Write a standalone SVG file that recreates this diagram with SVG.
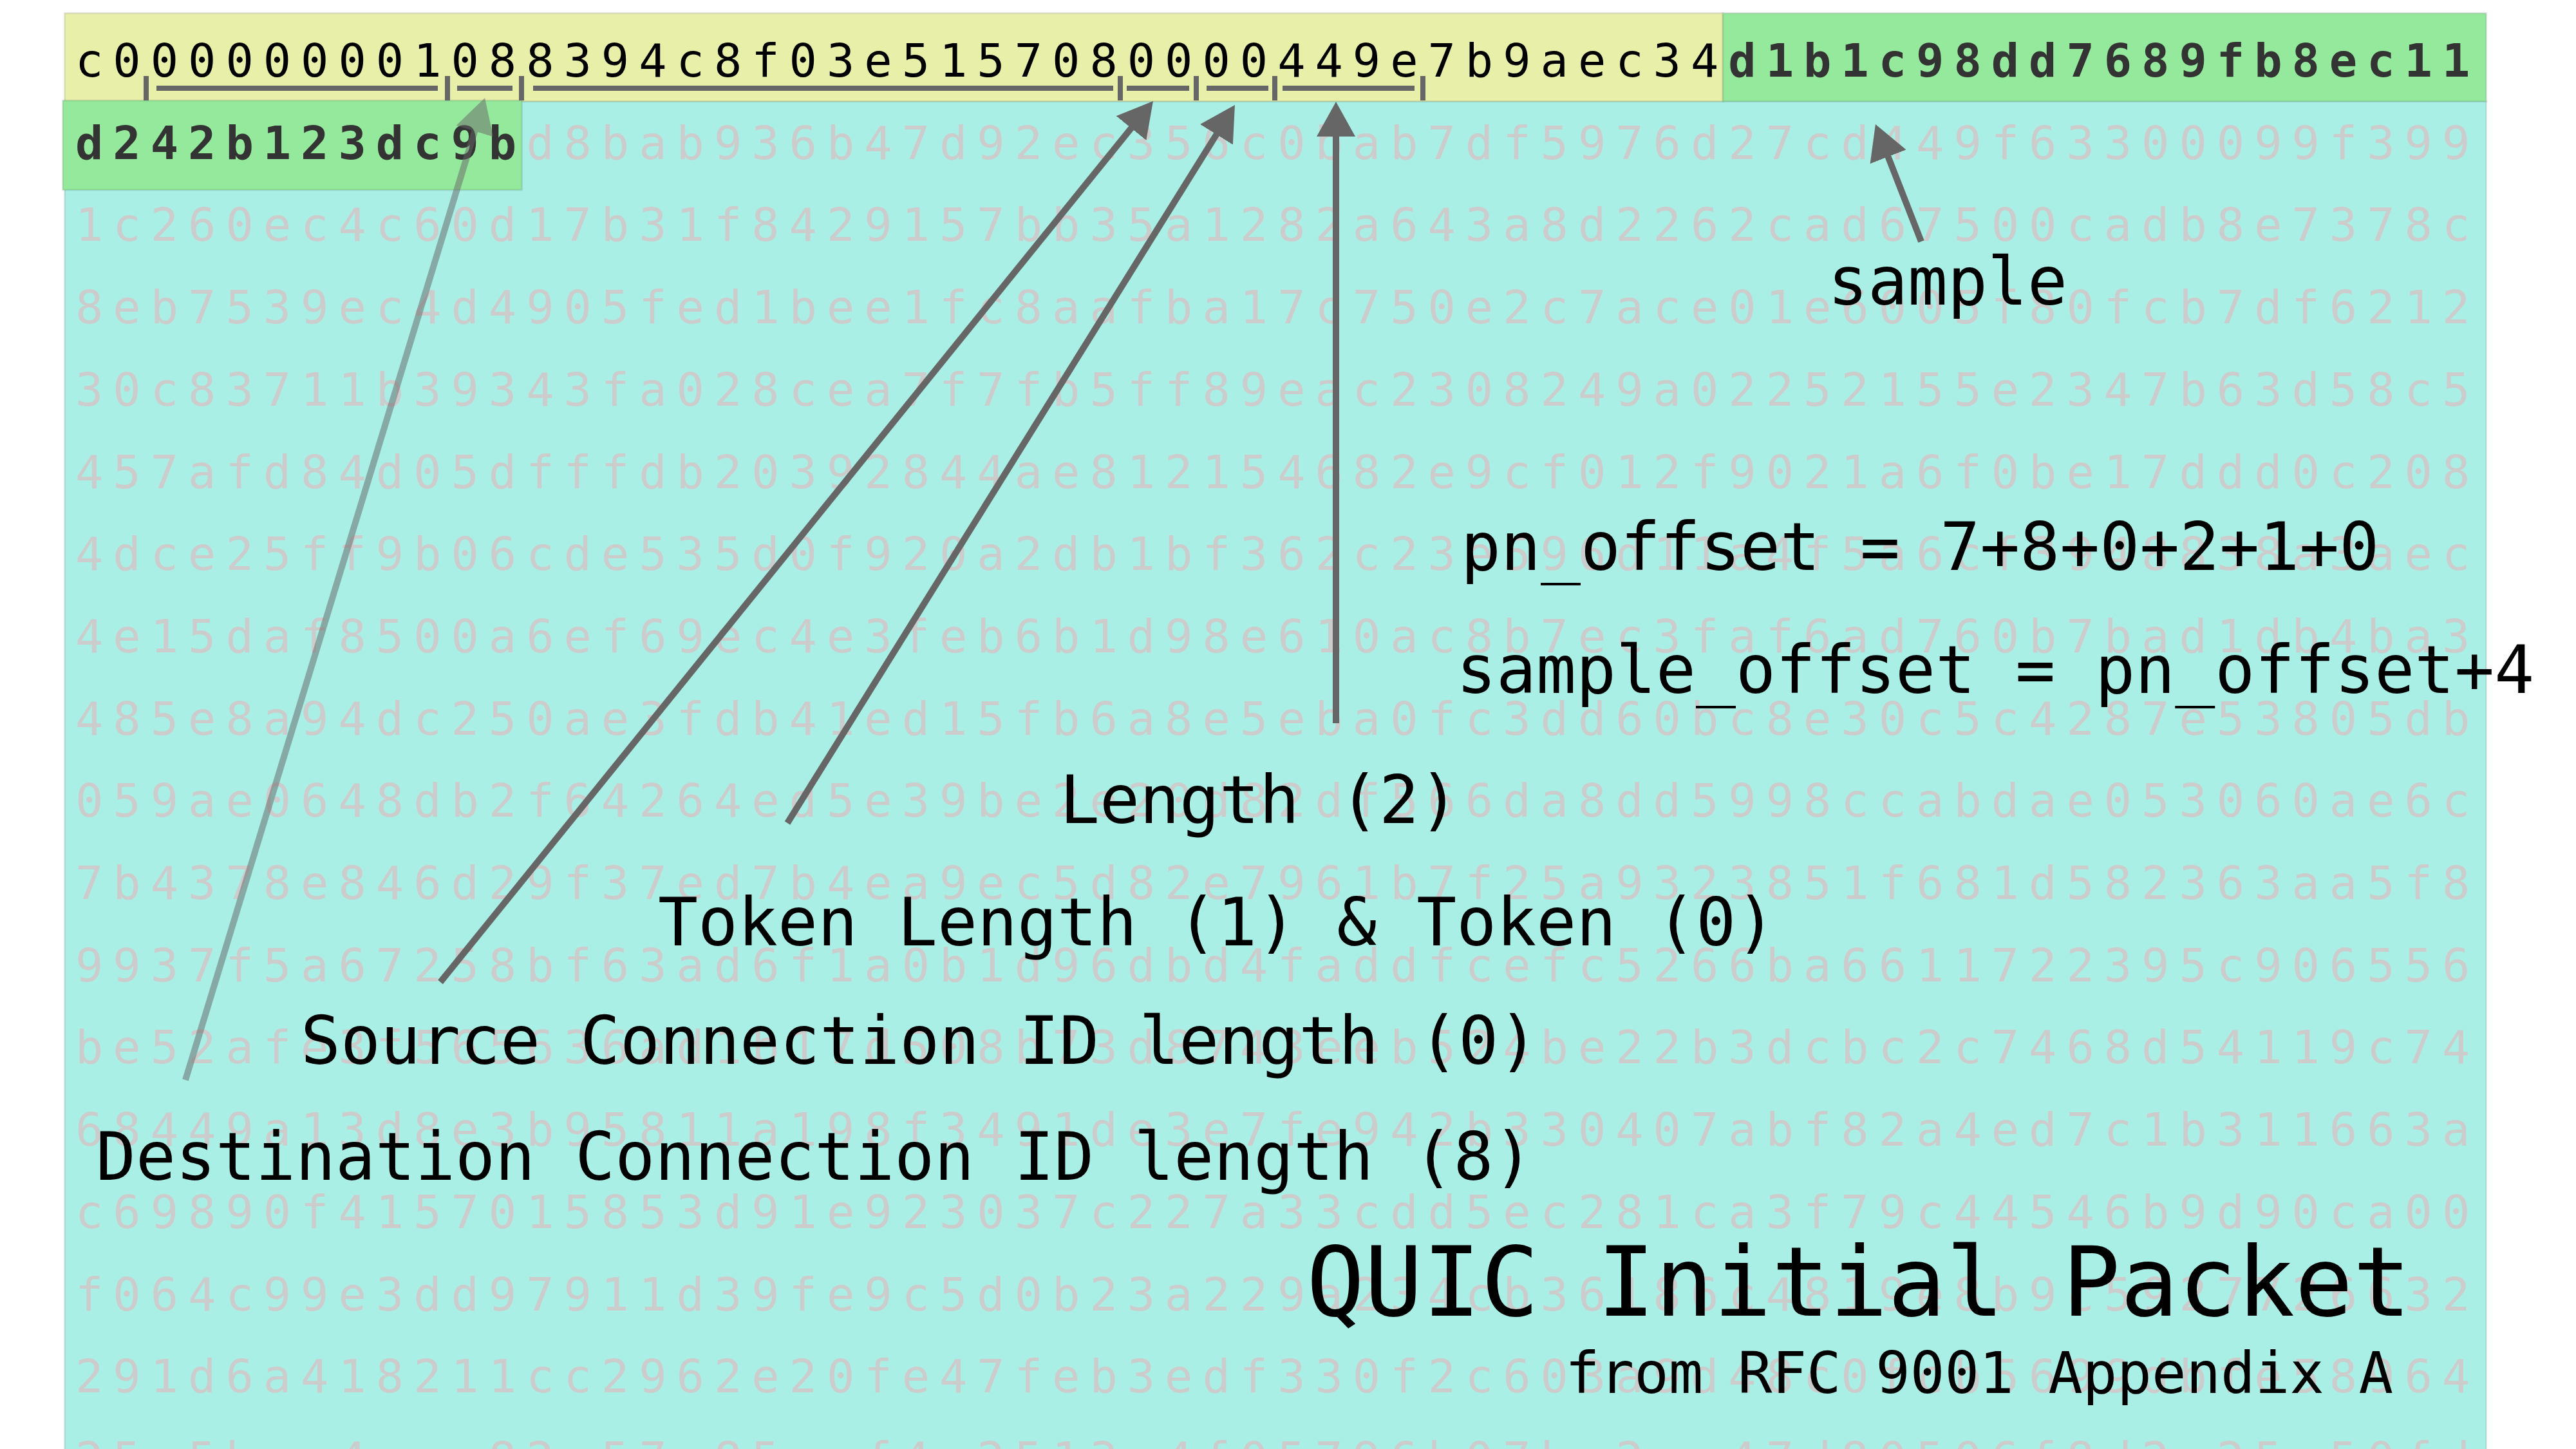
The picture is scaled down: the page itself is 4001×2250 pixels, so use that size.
<svg xmlns="http://www.w3.org/2000/svg" width="4001" height="2250" viewBox="0 0 4001 2250">
<style>
.box{stroke:rgba(0,0,0,0.09);stroke-width:3}
.hex{font-family:"DejaVu Sans Mono","Liberation Mono",monospace;font-size:72px;letter-spacing:15px}
.pay{fill:#cccccc}
.hdr{fill:#000000}
.b{font-weight:bold;fill:#333333}
.lbl{font-family:"DejaVu Sans Mono","Liberation Mono",monospace;font-size:103px;fill:#000000}
.brk{stroke:#666666;stroke-width:8;fill:none}
.arr{stroke:#666666;stroke-width:10;fill:none;marker-end:url(#ah)}
</style>
<defs>
<marker id="ah" markerUnits="userSpaceOnUse" viewBox="0 0 54 60" markerWidth="54" markerHeight="60" refX="14" refY="30" orient="auto">
<path d="M0,0 L54,30 L0,60 Z" fill="#666666"/>
</marker>
</defs>
<rect x="0" y="0" width="4001" height="2250" fill="#ffffff"/>
<g id="payload-area">
<rect class="box" x="100.5" y="157" width="3761" height="2110" fill="#aaefe6"/>
</g>
<g id="payload-hex" class="hex pay">
<text x="117" y="374.4">1c260ec4c60d17b31f8429157bb35a1282a643a8d2262cad67500cadb8e7378c</text>
<text x="117" y="502.1">8eb7539ec4d4905fed1bee1fc8aafba17c750e2c7ace01e6005f80fcb7df6212</text>
<text x="117" y="629.8">30c83711b39343fa028cea7f7fb5ff89eac2308249a02252155e2347b63d58c5</text>
<text x="117" y="757.5">457afd84d05dfffdb20392844ae812154682e9cf012f9021a6f0be17ddd0c208</text>
<text x="117" y="885.2">4dce25ff9b06cde535d0f920a2db1bf362c23e596d11a4f5a6cf3948838a3aec</text>
<text x="117" y="1012.9">4e15daf8500a6ef69ec4e3feb6b1d98e610ac8b7ec3faf6ad760b7bad1db4ba3</text>
<text x="117" y="1140.6">485e8a94dc250ae3fdb41ed15fb6a8e5eba0fc3dd60bc8e30c5c4287e53805db</text>
<text x="117" y="1268.3">059ae0648db2f64264ed5e39be2e20d82df566da8dd5998ccabdae053060ae6c</text>
<text x="117" y="1396">7b4378e846d29f37ed7b4ea9ec5d82e7961b7f25a9323851f681d582363aa5f8</text>
<text x="117" y="1523.7">9937f5a67258bf63ad6f1a0b1d96dbd4faddfcefc5266ba6611722395c906556</text>
<text x="117" y="1651.4">be52afe3f565636ad1b17d508b73d8743eeb524be22b3dcbc2c7468d54119c74</text>
<text x="117" y="1779.1">68449a13d8e3b95811a198f3491de3e7fe942b330407abf82a4ed7c1b311663a</text>
<text x="117" y="1906.8">c69890f4157015853d91e923037c227a33cdd5ec281ca3f79c44546b9d90ca00</text>
<text x="117" y="2034.5">f064c99e3dd97911d39fe9c5d0b23a229a234cb36186c4819e8b9c5927726632</text>
<text x="117" y="2162.2">291d6a418211cc2962e20fe47feb3edf330f2c603a9d48c0fcb5699dbfe58964</text>
<text x="117" y="2289.9">25c5bac4aee82e57a85aaf4e2513e4f05796b07ba2ee47d80506f8d2c25e50fd</text>
</g>
<g id="header-unprotected">
<rect class="box" x="100.5" y="20.5" width="2575.5" height="137" fill="#e8efa9"/>
</g>
<g id="header-sample">
<rect class="box" x="2676" y="20.5" width="1185.5" height="137" fill="#95e99d"/>
</g>
<g id="first-bytes">
<rect class="box" x="97.5" y="156" width="713" height="139" fill="#95e99d"/>
</g>
<g id="header-text" class="hex">
<text x="117" y="119"><tspan class="hdr">c000000001088394c8f03e5157080000449e7b9aec34</tspan><tspan class="b">d1b1c98dd7689fb8ec11</tspan></text>
<text x="117" y="246.7"><tspan class="b">d242b123dc9b</tspan><tspan class="pay">d8bab936b47d92ec356c0bab7df5976d27cd449f63300099f399</tspan></text>
</g>
<g id="field-brackets" class="brk">
<path d="M227,118 V156 M695,118 V156 M810,118 V156 M1740,118 V156 M1858,118 V156 M1980,118 V156 M2210,118 V156"/>
<path d="M243,137 H680 M710,137 H796 M828,137 H1729 M1750,137 H1847 M1874,137 H1970 M1992,137 H2197"/>
</g>
<g id="connectors">
<line class="arr" opacity="0.5" x1="288" y1="1677" x2="741.4" y2="190.3"/>
<line class="arr" x1="684" y1="1525" x2="1765.8" y2="188.1"/>
<line class="arr" x1="1223" y1="1278" x2="1896.8" y2="196.9"/>
<line class="arr" x1="2075" y1="1123" x2="2075" y2="198"/>
<line class="arr" x1="2984" y1="375" x2="2927.5" y2="230.3"/>
</g>
<g id="label-sample"><text class="lbl" x="2839" y="473">sample</text></g>
<g id="label-pn-offset"><text class="lbl" x="2269" y="885">pn_offset = 7+8+0+2+1+0</text></g>
<g id="label-sample-offset"><text class="lbl" x="2262" y="1076">sample_offset = pn_offset+4</text></g>
<g id="label-length"><text class="lbl" x="1646" y="1278">Length (2)</text></g>
<g id="label-token"><text class="lbl" x="1022" y="1468">Token Length (1) &amp; Token (0)</text></g>
<g id="label-scid"><text class="lbl" x="467" y="1652">Source Connection ID length (0)</text></g>
<g id="label-dcid"><text class="lbl" x="149" y="1832">Destination Connection ID length (8)</text></g>
<g id="title">
<text x="2029" y="2043" style="font-family:'DejaVu Sans Mono','Liberation Mono',monospace;font-size:150px;fill:#000">QUIC Initial Packet</text>
<text x="2431" y="2163" style="font-family:'DejaVu Sans Mono','Liberation Mono',monospace;font-size:89px;fill:#000">from RFC 9001 Appendix A</text>
</g>
</svg>
